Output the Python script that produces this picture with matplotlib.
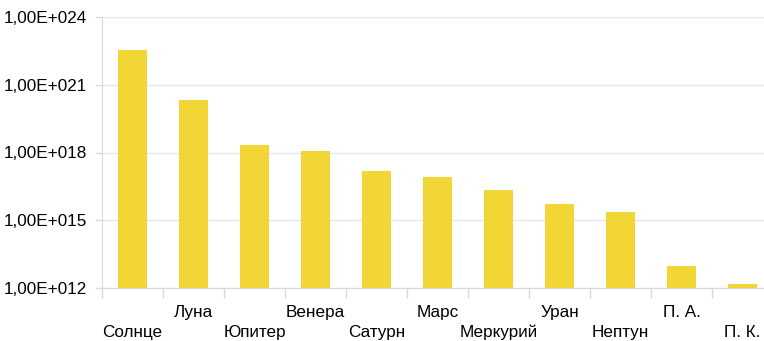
import numpy as np
import matplotlib
matplotlib.use("Agg")
import matplotlib.pyplot as plt
import matplotlib.ticker as mtick
from matplotlib.transforms import offset_copy

# Mass values (log scale) for each body
bodies = ["Солнце", "Луна", "Юпитер", "Венера", "Сатурн", "Марс",
          "Меркурий", "Уран", "Нептун", "П. А.", "П. К."]
values = [3.4e22, 2.2e20, 2.1e18, 1.2e18, 1.5e17, 7.9e16,
          2.1e16, 5.2e15, 2.3e15, 9.1e12, 1.5e12]
y_ticks = [1e12, 1e15, 1e18, 1e21, 1e24]

plt.rcParams["font.family"] = ["Liberation Sans", "DejaVu Sans"]

fig = plt.figure(figsize=(7.64, 3.41), dpi=100)
W, H = 764, 341
ax = fig.add_axes([102 / W, 1 - 288 / H, (773 - 102) / W, (288 - 17) / H])

x = np.arange(len(bodies))
ax.bar(x, values, width=0.49, color="#F1D635", zorder=2)

ax.set_yscale("log")
ax.set_ylim(1e12, 1e24)
ax.set_xlim(-0.5, len(bodies) - 0.5)
ax.set_yticks(y_ticks)
ax.yaxis.set_minor_locator(mtick.NullLocator())
ax.yaxis.set_major_formatter(
    mtick.FuncFormatter(lambda v, p: "1,00E+%03d" % round(np.log10(v))))
ax.tick_params(axis="y", length=5, width=1, color="#d9d9d9", pad=6,
               labelsize=12.3, labelcolor="black")
ax.grid(axis="y", color="#e6e6e6", linewidth=1, zorder=0)

# Category boundary ticks, labels drawn separately in two rows
ax.set_xticks(np.arange(len(bodies) + 1) - 0.5)
ax.set_xticklabels([])
ax.tick_params(axis="x", length=7, width=1, color="#d9d9d9")

for side in ["top", "right"]:
    ax.spines[side].set_visible(False)
for side in ["left", "bottom"]:
    ax.spines[side].set_color("#d9d9d9")

base = ax.get_xaxis_transform()
for i, name in enumerate(bodies):
    dy = -17 if i % 2 else -37
    tr = offset_copy(base, fig=fig, x=0, y=dy, units="dots")
    ax.text(i, 0, name, transform=tr, ha="center", va="top",
            fontsize=12.3, color="black", clip_on=False)

fig.savefig("out.png", dpi=100)
